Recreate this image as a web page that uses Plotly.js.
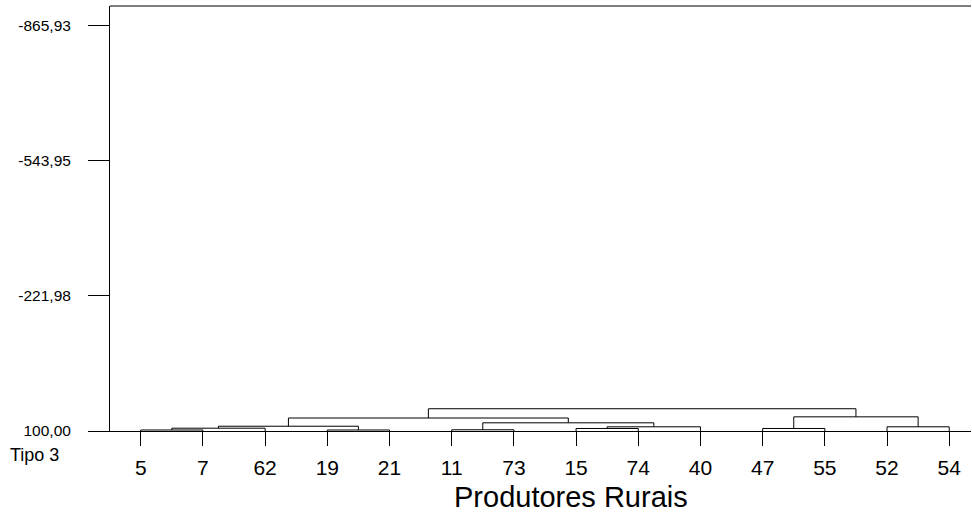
<!DOCTYPE html>
<html>
<head>
<meta charset="utf-8">
<script src="https://cdn.plot.ly/plotly-3.0.1.min.js"></script>
<style>html,body{margin:0;padding:0;background:#fff;}#chart{width:972px;height:520px;}</style>
</head>
<body>
<div id="chart"></div>
<script>
// Leaves of the dendrogram, left to right
const leafLabels = ['5','7','62','19','21','11','73','15','74','40','47','55','52','54'];
// Merges: cluster ids 0..13 are leaves, each merge creates id 14, 15, ...
const mergeLeft   = [0, 3, 5, 7, 10, 14, 17, 12, 19, 16, 22, 18, 24];
const mergeRight  = [1, 4, 6, 8, 11, 2, 9, 13, 15, 20, 23, 21, 25];
const mergeHeight = [97.6, 97.6, 97.1, 94.0, 94.0, 93.3, 90.0, 90.0, 88.6, 80.5, 69.0, 66.2, 46.9];
// Y axis ticks
const yTickVals = [100.00, -221.98, -543.95, -865.93];
const yTickText = ['100,00', '-221,98', '-543,95', '-865,93'];
const leafLevel = 100;

const nLeaf = leafLabels.length;
const posX = [], posY = [];
for (let i = 0; i < nLeaf; i++) { posX.push(i); posY.push(leafLevel); }
const xs = [], ys = [];
for (let k = 0; k < mergeLeft.length; k++) {
  const a = mergeLeft[k], b = mergeRight[k], h = mergeHeight[k];
  xs.push(posX[a], posX[a], posX[b], posX[b], null);
  ys.push(posY[a], h, h, posY[b], null);
  posX.push((posX[a] + posX[b]) / 2);
  posY.push(h);
}

const font = 'Arial, "Liberation Sans", sans-serif';
const layout = {
  width: 972, height: 520,
  margin: {l: 110, r: 1, t: 6, b: 89, pad: 0},
  paper_bgcolor: '#fff', plot_bgcolor: '#fff',
  showlegend: false,
  font: {family: font, color: '#000'},
  xaxis: {
    range: [-0.494, 13.35], tickmode: 'array',
    tickvals: leafLabels.map((_, i) => i), ticktext: leafLabels,
    ticks: 'outside', ticklen: 14, tickwidth: 1, tickcolor: '#000',
    showline: true, linecolor: '#000', linewidth: 1,
    showgrid: false, zeroline: false,
    ticklabelstandoff: 4,
    tickfont: {family: font, size: 21, color: '#000'}
  },
  yaxis: {
    range: [100, -913.6], tickmode: 'array',
    tickvals: yTickVals, ticktext: yTickText,
    ticks: 'outside', ticklen: 21, tickwidth: 1, tickcolor: '#000',
    showline: true, linecolor: '#000', linewidth: 1,
    showgrid: false, zeroline: false,
    ticklabelstandoff: 14,
    tickfont: {family: font, size: 15.5, color: '#000'}
  },
  shapes: [{type: 'line', xref: 'paper', yref: 'paper', x0: 0, x1: 1, y0: 1, y1: 1,
            line: {color: '#000', width: 1}}],
  annotations: [
    {text: 'Tipo 3', xref: 'paper', yref: 'paper', x: -0.118, y: -0.0565,
     xanchor: 'left', yanchor: 'middle', showarrow: false,
     font: {family: font, size: 18, color: '#000'}},
    {text: 'Produtores Rurais', xref: 'paper', yref: 'paper', x: 0.535, y: -0.155,
     xanchor: 'center', yanchor: 'middle', showarrow: false,
     font: {family: font, size: 29, color: '#000'}}
  ]
};

Plotly.newPlot('chart', [{
  x: xs, y: ys, mode: 'lines', type: 'scatter',
  line: {color: '#000', width: 1}, hoverinfo: 'skip', showlegend: false
}], layout, {staticPlot: true, displayModeBar: false});
</script>
</body>
</html>
